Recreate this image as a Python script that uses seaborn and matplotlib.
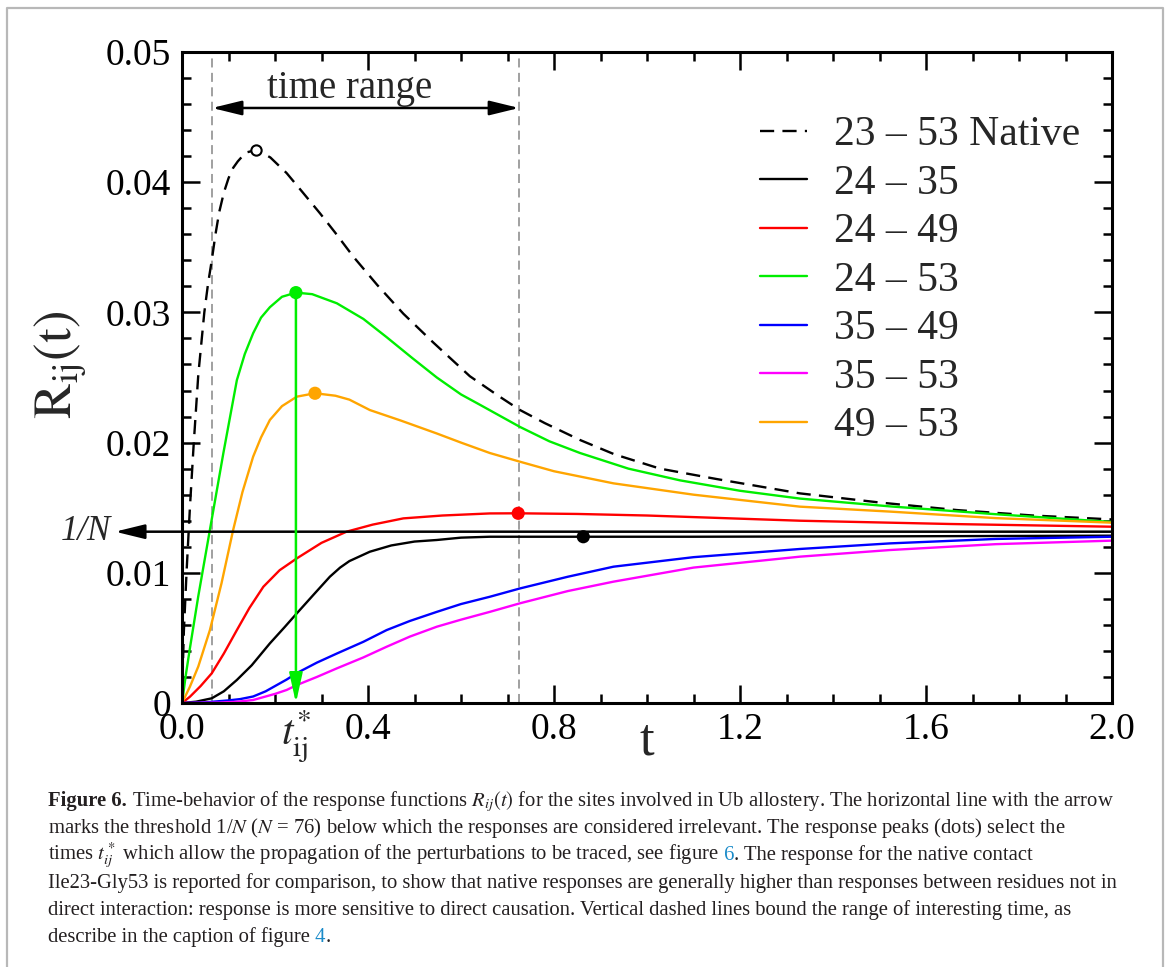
import numpy as np
import pandas as pd
import matplotlib.pyplot as plt
import seaborn as sns
from matplotlib.ticker import FixedLocator, MultipleLocator
from matplotlib.lines import Line2D

# ---- data ----
pairs = ["23 – 53 Native", "24 – 35", "24 – 49", "24 – 53", "35 – 49", "35 – 53", "49 – 53"]
colors = ["black", "black", "#ff0000", "#00ee00", "#0000ff", "#ff00ff", "#ffa500"]

t_native = [0, 0.002, 0.004, 0.010, 0.017, 0.025, 0.035, 0.048, 0.056, 0.064, 0.072, 0.080, 0.090, 0.100,
            0.110, 0.120, 0.130, 0.140, 0.159, 0.180, 0.190, 0.225, 0.260, 0.297, 0.330, 0.368, 0.420,
            0.476, 0.540, 0.619, 0.680, 0.727, 0.780, 0.856, 0.930, 1.028, 1.150, 1.329, 1.500, 1.666,
            1.830, 2.0]
r_native = [0, 0.0030, 0.0055, 0.0102, 0.0150, 0.0198, 0.0252, 0.0300, 0.0322, 0.0340, 0.0360, 0.0377,
            0.0392, 0.0403, 0.0411, 0.0416, 0.0420, 0.0423, 0.04247, 0.0421, 0.0419, 0.0407, 0.0392,
            0.0376, 0.0361, 0.0343, 0.0321, 0.0299, 0.0277, 0.0251, 0.0236, 0.0225, 0.0215, 0.0202,
            0.0191, 0.0180, 0.0172, 0.0161, 0.0154, 0.01482, 0.0144, 0.0141]

t_2435 = [0, 0.030, 0.064, 0.090, 0.118, 0.150, 0.189, 0.220, 0.247, 0.285, 0.318, 0.340, 0.360, 0.404,
          0.450, 0.500, 0.548, 0.600, 0.662, 0.863, 1.1, 1.5, 2.0]
r_2435 = [0, 0.0001, 0.00036, 0.0009, 0.00177, 0.0029, 0.00458, 0.0058, 0.00689, 0.0084, 0.0097, 0.0104,
          0.0109, 0.01162, 0.0121, 0.0124, 0.01252, 0.0127, 0.01277, 0.01277, 0.01277, 0.0128, 0.01285]

t_2449 = [0, 0.017, 0.040, 0.064, 0.090, 0.118, 0.145, 0.175, 0.210, 0.247, 0.300, 0.354, 0.410, 0.476,
          0.560, 0.662, 0.723, 0.85, 1.0, 1.329, 1.65, 2.0]
r_2449 = [0, 0.00048, 0.0013, 0.00228, 0.0038, 0.0056, 0.0073, 0.00893, 0.0102, 0.01111, 0.0123, 0.01316,
          0.0137, 0.01418, 0.0144, 0.01456, 0.01457, 0.01452, 0.01440, 0.0140, 0.01375, 0.01354]

t_2453 = [0, 0.008, 0.017, 0.035, 0.060, 0.089, 0.118, 0.135, 0.153, 0.170, 0.189, 0.215, 0.245, 0.280,
          0.333, 0.390, 0.440, 0.495, 0.548, 0.600, 0.641, 0.727, 0.790, 0.856, 0.960, 1.071, 1.200,
          1.329, 1.523, 1.75, 2.0]
r_2453 = [0, 0.0021, 0.0042, 0.0082, 0.0133, 0.0192, 0.0248, 0.0268, 0.0284, 0.0296, 0.0304, 0.0312,
          0.03152, 0.0314, 0.0307, 0.0295, 0.0281, 0.0265, 0.0250, 0.0237, 0.0229, 0.0212, 0.0201, 0.0192,
          0.0180, 0.0171, 0.0163, 0.0157, 0.0151, 0.0145, 0.0139]

t_3549 = [0, 0.050, 0.100, 0.125, 0.153, 0.180, 0.200, 0.225, 0.247, 0.290, 0.333, 0.390, 0.440, 0.490,
          0.548, 0.600, 0.662, 0.727, 0.830, 0.928, 1.10, 1.329, 1.523, 1.75, 2.0]
r_3549 = [0, 0.00005, 0.0002, 0.0003, 0.0005, 0.0009, 0.0013, 0.0018, 0.0023, 0.0031, 0.0038, 0.0047,
          0.0056, 0.0063, 0.0070, 0.0076, 0.00816, 0.0088, 0.0097, 0.01047, 0.0112, 0.01183, 0.01226,
          0.0126, 0.01277]

t_3553 = [0, 0.080, 0.120, 0.153, 0.180, 0.200, 0.225, 0.247, 0.290, 0.333, 0.390, 0.440, 0.490, 0.548,
          0.600, 0.662, 0.727, 0.830, 0.928, 1.10, 1.329, 1.523, 1.75, 2.0]
r_3553 = [0, 0.00003, 0.0001, 0.00023, 0.0005, 0.0007, 0.0010, 0.00138, 0.0020, 0.00266, 0.0035, 0.00432,
          0.0051, 0.00586, 0.0064, 0.0070, 0.00766, 0.0086, 0.00932, 0.0104, 0.01124, 0.01175, 0.0122,
          0.01247]

t_4953 = [0, 0.017, 0.035, 0.060, 0.085, 0.110, 0.130, 0.153, 0.170, 0.189, 0.215, 0.247, 0.286, 0.330,
          0.360, 0.404, 0.470, 0.548, 0.600, 0.662, 0.727, 0.800, 0.928, 1.10, 1.329, 1.523, 1.75, 2.0]
r_4953 = [0, 0.00125, 0.0028, 0.0056, 0.0092, 0.01329, 0.0162, 0.01892, 0.0204, 0.02174, 0.0228, 0.02353,
          0.02379, 0.0236, 0.0233, 0.0225, 0.0217, 0.0207, 0.0200, 0.0192, 0.01853, 0.0178, 0.01687,
          0.0160, 0.01508, 0.0147, 0.0142, 0.01385]

# response peaks (dots)
peak_t = [0.159, 0.863, 0.723, 0.245, 0.286]
peak_r = [0.04247, 0.01277, 0.01457, 0.03152, 0.02379]
peak_colors = ["black", "black", "#ff0000", "#00ee00", "#ffa500"]

t_star = 0.245
time_range = [0.0645, 0.725]
inv_N = 1 / 76

xticks = [0.0, 0.4, 0.8, 1.2, 1.6, 2.0]
xticklabels = ["0.0", "0.4", "0.8", "1.2", "1.6", "2.0"]
yticks = [0, 0.01, 0.02, 0.03, 0.04, 0.05]
yticklabels = ["0", "0.01", "0.02", "0.03", "0.04", "0.05"]

ink = "#231f20"
link = "#1a8bc9"
caption = [
    [("Figure 6.", "bold", ink),
     (r" Time-behavior of the response functions $R_{ij}(t)$ for the sites involved in Ub allostery. The horizontal line with the arrow", "normal", ink)],
    [(r"marks the threshold 1/$N$ ($N$ = 76) below which the responses are considered irrelevant. The response peaks (dots) select the", "normal", ink)],
    [(r"times $t^*_{ij}$ which allow the propagation of the perturbations to be traced, see figure", "normal", ink),
     (" 6", "normal", link),
     (". The response for the native contact", "normal", ink)],
    [("Ile23-Gly53 is reported for comparison, to show that native responses are generally higher than responses between residues not in", "normal", ink)],
    [("direct interaction: response is more sensitive to direct causation. Vertical dashed lines bound the range of interesting time, as", "normal", ink)],
    [("describe in the caption of figure", "normal", ink),
     (" 4", "normal", link),
     (".", "normal", ink)],
]

series_t = [t_native, t_2435, t_2449, t_2453, t_3549, t_3553, t_4953]
series_r = [r_native, r_2435, r_2449, r_2453, r_3549, r_3553, r_4953]
df = pd.concat([pd.DataFrame({"t": t, "R": r, "pair": p})
                for t, r, p in zip(series_t, series_r, pairs)], ignore_index=True)

# ---- style ----
sns.set_theme(style="ticks")
plt.rcParams['font.family'] = ['Liberation Serif', 'DejaVu Serif']
plt.rcParams['mathtext.fontset'] = 'stix'

fig = plt.figure(figsize=(11.7, 9.67), dpi=100)
ax = fig.add_axes([182 / 1170, 1 - 703 / 967, 930 / 1170, 651 / 967])

dashes = {p: "" for p in pairs}
dashes[pairs[0]] = (6, 3.5)
sns.lineplot(data=df, x="t", y="R", hue="pair", style="pair", palette=dict(zip(pairs, colors)),
             dashes=dashes, estimator=None, sort=True, lw=1.7, ax=ax)

# peaks: open circle for the native contact, filled dots for the others
ax.scatter(peak_t[:1], peak_r[:1], s=55, facecolors="white", edgecolors="black", lw=1.5, zorder=5)
ax.scatter(peak_t[1:], peak_r[1:], s=90, c=peak_colors[1:], lw=0, zorder=5)

arrow_kw = dict(lw=1.8, shrinkA=0, shrinkB=0, mutation_scale=20)

# range of interesting time
for xv in time_range:
    ax.axvline(xv, color="#999999", ls=(0, (5, 3)), lw=1.3, zorder=1)
ax.annotate("", xy=(time_range[0], 0.0457), xytext=(time_range[1], 0.0457),
            arrowprops=dict(arrowstyle="<|-|>,head_length=0.9,head_width=0.22", color="black", **arrow_kw))
ax.text(0.361, 0.0472, "time range", ha="center", va="center", fontsize=28)

# threshold 1/N
ax.annotate("", xy=(-0.144, inv_N), xytext=(2.0, inv_N), annotation_clip=False,
            arrowprops=dict(arrowstyle="-|>,head_length=0.9,head_width=0.22", color="black", **arrow_kw))
ax.text(-0.152, inv_N, "1/N", style="italic", ha="right", va="center", fontsize=25, clip_on=False)

# t* arrow
ax.annotate("", xy=(t_star, 0.0), xytext=(t_star, peak_r[3]),
            arrowprops=dict(arrowstyle="-|>,head_length=0.9,head_width=0.2", color="#00ee00", **arrow_kw))
ax.annotate(r"$t^{*}_{\mathrm{ij}}$", xy=(t_star, 0), xycoords=("data", "axes fraction"),
            xytext=(0, -4), textcoords="offset points", ha="center", va="top", fontsize=30)

# axes
ax.set_xlim(0, 2)
ax.set_ylim(0, 0.05)
ax.xaxis.set_major_locator(FixedLocator(xticks))
ax.set_xticklabels(xticklabels)
ax.xaxis.set_minor_locator(MultipleLocator(0.1))
ax.yaxis.set_major_locator(FixedLocator(yticks))
ax.set_yticklabels(yticklabels)
ax.yaxis.set_minor_locator(MultipleLocator(0.002))
ax.tick_params(which="both", direction="in", top=True, right=True, colors="black", width=1.8)
ax.tick_params(which="major", length=13, labelsize=27)
ax.tick_params(axis="y", which="major", pad=8)
ax.tick_params(axis="x", which="major", pad=7)
ax.tick_params(which="minor", length=6.5)
for s in ax.spines.values():
    s.set_linewidth(2.2)
    s.set_color("black")

ax.set_xlabel("t", fontsize=38)
ax.xaxis.set_label_coords(0.5, -0.022)
ax.set_ylabel(r"$\mathrm{R_{ij}(t)}$", fontsize=38)
ax.yaxis.set_label_coords(-0.101, 0.52)

handles, labels = ax.get_legend_handles_labels()
ax.legend(handles, labels, loc="upper left", bbox_to_anchor=(760 / 1170, 1 - 116 / 967),
          bbox_transform=fig.transFigure, frameon=False, fontsize=30, handlelength=1.12,
          handletextpad=0.65, labelspacing=0.24, borderaxespad=0, borderpad=0)

# page frame
fig.add_artist(Line2D([7 / 1170, 7 / 1170, 1163 / 1170, 1163 / 1170], [-0.01, 1 - 8 / 967, 1 - 8 / 967, -0.01],
                      transform=fig.transFigure, color="#b8b8b8", lw=1.6))

# caption
fig.canvas.draw()
renderer = fig.canvas.get_renderer()
inv = fig.transFigure.inverted()
for i, pieces in enumerate(caption):
    x = 48 / 1170
    y = 1 - (806 + i * 27.2) / 967
    for txt, weight, col in pieces:
        tx = fig.text(x, y, txt, fontsize=14.9, fontweight=weight, color=col, ha="left", va="baseline")
        bb = tx.get_window_extent(renderer)
        x = inv.transform((bb.x1, bb.y0))[0]

fig.savefig("out.png", dpi=100)
